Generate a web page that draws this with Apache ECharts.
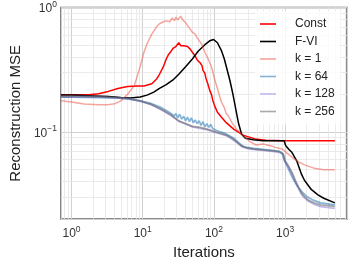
<!DOCTYPE html>
<html>
<head>
<meta charset="utf-8">
<script src="https://cdn.jsdelivr.net/npm/echarts@6/dist/echarts.min.js"></script>
<style>html,body{margin:0;padding:0;background:#fff;}#c{width:354px;height:265px;}</style>
</head>
<body>
<div id="c"></div>
<script>
// ---- data (iterations, reconstruction MSE) ----
const seriesNames = ['Const', 'F-VI', 'k = 1', 'k = 64', 'k = 128', 'k = 256'];

const xConst = [0.71,1,1.75,2.4,3.28,4.48,6.13,8.38,10.4,13.4,15.7,17.2,19.5,21.4,22.8,25,26.6,29.2,32.1,34.2,36.4,37.6,40,42.6,43.9,46.7,49.8,54.6,58.2,60,63.9,68,70.2,74.7,77.1,82,87.3,93,96,102,112,127,149,191,261,379,535,910,5000];
const yConst = [0.1995,0.1995,0.1995,0.203,0.212,0.224,0.232,0.234,0.234,0.244,0.267,0.291,0.335,0.386,0.415,0.445,0.469,0.486,0.521,0.494,0.512,0.494,0.503,0.486,0.494,0.461,0.437,0.407,0.379,0.386,0.360,0.341,0.313,0.296,0.271,0.244,0.216,0.198,0.181,0.163,0.144,0.132,0.119,0.105,0.094,0.0881,0.0859,0.0852,0.0852];

const xFVI = [0.71,1,1.75,3.28,4.92,6.73,9.2,11.5,14.3,17.2,21.4,26.6,32.1,40,49.8,60,74.7,87.3,93,98.9,105,112,127,140,153,168,185,203,222,245,277,356,487,969,1016,1133,1245,1325,1455,1703,1868,2118,2325,2892,3490,5000];
const yFVI = [0.198,0.198,0.196,0.193,0.189,0.188,0.191,0.198,0.209,0.224,0.240,0.262,0.291,0.335,0.386,0.445,0.503,0.540,0.549,0.554,0.540,0.521,0.453,0.386,0.318,0.258,0.201,0.152,0.117,0.096,0.089,0.0866,0.0852,0.0852,0.078,0.0725,0.0688,0.0677,0.0588,0.0457,0.041,0.0372,0.0346,0.0313,0.0294,0.0270];

const xK1 = [0.71,1,1.5,2.4,3.28,4.08,4.92,6.13,7.62,9.2,10.4,11.5,13.4,15.7,17.2,19.5,21.4,22.8,24,26,28,29.2,31,33,34.2,36.4,40,42.6,46.7,49.8,54.6,58.2,63.9,68,74.7,82,87.3,93,102,112,119,127,140,149,163,179,209,261,324,391,487,606,731,910,1065,1245,1549,1868,2555,3490,5000];
const yK1 = [0.178,0.174,0.168,0.166,0.166,0.169,0.178,0.201,0.236,0.335,0.437,0.512,0.611,0.703,0.741,0.768,0.781,0.810,0.768,0.824,0.781,0.838,0.795,0.824,0.853,0.795,0.754,0.715,0.667,0.633,0.611,0.569,0.530,0.503,0.437,0.393,0.360,0.330,0.267,0.224,0.198,0.175,0.157,0.141,0.132,0.119,0.105,0.0929,0.0834,0.0787,0.0801,0.0780,0.0753,0.0731,0.0677,0.0630,0.0575,0.0545,0.0513,0.0499,0.0499];

const xK64 = [0.71,1,2.4,4.08,6.13,9.2,13.4,18.3,21.4,25,27.5,29.2,31,33,35.3,37.6,40,42.6,45.3,48.2,51.4,54.6,58.2,62,66,70.2,74.7,79.5,84.6,90.2,96,102,109,119,140,163,191,222,261,356,487,665,828,910,969,1065,1169,1325,1500,1703,1990,2480,3177,5000];
const yK64 = [0.191,0.191,0.189,0.188,0.185,0.178,0.169,0.157,0.149,0.141,0.134,0.141,0.130,0.139,0.127,0.134,0.123,0.132,0.121,0.130,0.119,0.125,0.117,0.123,0.113,0.121,0.110,0.117,0.109,0.115,0.107,0.110,0.103,0.101,0.098,0.094,0.0893,0.0823,0.0762,0.0740,0.0725,0.0714,0.0701,0.0677,0.0596,0.0535,0.0475,0.0410,0.0365,0.0334,0.0305,0.0284,0.0270,0.0260];

const xK128 = [0.71,1,2.4,4.08,6.13,9.2,13.4,18.3,25,32.1,40,49.8,63.9,82,102,127,153,179,209,245,290,356,487,665,828,940,1000,1133,1245,1390,1549,1703,1868,2118,2555,3177,5000];
const yK128 = [0.192,0.192,0.192,0.188,0.185,0.177,0.165,0.151,0.136,0.122,0.116,0.110,0.107,0.104,0.100,0.096,0.093,0.088,0.0825,0.0765,0.0740,0.0725,0.0712,0.0700,0.0688,0.0660,0.0580,0.0515,0.0465,0.0400,0.0350,0.0315,0.0296,0.0278,0.0263,0.0252,0.0244];

const xK256 = [0.71,1,2.4,4.08,6.13,9.2,13.4,18.3,25,32.1,40,49.8,63.9,82,102,127,153,179,209,245,290,356,487,665,828,940,1000,1133,1245,1390,1549,1703,1868,2118,2555,3177,5000];
const yK256 = [0.193,0.193,0.193,0.189,0.186,0.178,0.166,0.152,0.137,0.123,0.117,0.111,0.109,0.105,0.101,0.0971,0.094,0.0893,0.0834,0.0773,0.0747,0.0731,0.0719,0.0707,0.0695,0.0670,0.0588,0.0526,0.0475,0.0410,0.0359,0.0323,0.0303,0.0284,0.0270,0.0260,0.0253];

// axis extents and grid values
const xMin = 0.71, xMax = 7400;
const yMin = 0.02, yMax = 1;
const xMinorGrid = [0.8,0.9,2,3,4,5,6,7,8,9,20,30,40,50,60,70,80,90,200,300,400,500,600,700,800,900,2000,3000,4000,5000,6000,7000];
const yMinorGrid = [0.03,0.04,0.05,0.06,0.07,0.08,0.09,0.2,0.3,0.4,0.5,0.6,0.7,0.8,0.9];

const colors = ['#ff0000', '#000000', 'rgba(235,75,60,0.5)', 'rgba(31,119,180,0.55)', 'rgba(120,100,210,0.45)', 'rgba(100,100,100,0.55)'];
const widths = [1.5, 1.5, 1.5, 1.7, 1.8, 1.8];
const xs = [xConst, xFVI, xK1, xK64, xK128, xK256];
const ys = [yConst, yFVI, yK1, yK64, yK128, yK256];

function zip(a, b) { return a.map((v, i) => [v, b[i]]); }
function powLabel(v) {
  const e = Math.log10(v), r = Math.round(e);
  if (Math.abs(e - r) > 1e-6) return '';
  return '{a|10}{b|' + (r < 0 ? '\u2212' + (-r) : r) + '}';
}
const FONT = 'Liberation Sans';
const rich = {
  a: { fontSize: 12, fontFamily: FONT, color: '#333', lineHeight: 15, verticalAlign: 'bottom' },
  b: { fontSize: 8.5, fontFamily: FONT, color: '#333', lineHeight: 15, verticalAlign: 'top', padding: [0, 0, 6, 0] }
};

const series = seriesNames.map((n, i) => ({
  name: n, type: 'line', data: zip(xs[i], ys[i]), symbol: 'none', smooth: false,
  lineStyle: { color: colors[i], width: widths[i] }, itemStyle: { color: colors[i] },
  z: 3, animation: false
}));
series.unshift({
  type: 'line', data: [], symbol: 'none', silent: true, animation: false, z: 1,
  markLine: {
    silent: true, symbol: 'none', animation: false, z: 1, label: { show: false },
    lineStyle: { color: '#e6e6e6', width: 0.8, type: 'solid' },
    data: xMinorGrid.map(v => ({ xAxis: v })).concat(yMinorGrid.map(v => ({ yAxis: v })))
  }
});

const chart = echarts.init(document.getElementById('c'), null, { renderer: 'canvas' });
chart.setOption({
  animation: false,
  backgroundColor: '#fff',
  grid: { left: 51, right: 7, top: 5, bottom: 38, show: true, borderColor: '#666', borderWidth: 1.5, backgroundColor: 'transparent' },
  xAxis: {
    type: 'log', logBase: 10, min: xMin, max: xMax,
    name: 'Iterations', nameLocation: 'middle', nameGap: 22,
    nameTextStyle: { fontSize: 15, fontFamily: FONT, color: '#222' },
    axisLine: { show: false }, axisTick: { show: false },
    axisLabel: { formatter: powLabel, rich: rich, margin: 6, showMinLabel: false, showMaxLabel: false },
    splitLine: { show: true, lineStyle: { color: '#d0d0d0', width: 1 } }
  },
  yAxis: {
    type: 'log', logBase: 10, min: yMin, max: yMax,
    name: 'Reconstruction MSE', nameLocation: 'middle', nameGap: 29,
    nameTextStyle: { fontSize: 15, fontFamily: FONT, color: '#222' },
    axisLine: { show: false }, axisTick: { show: false },
    axisLabel: { formatter: powLabel, rich: rich, margin: 4 },
    splitLine: { show: true, lineStyle: { color: '#d0d0d0', width: 1 } }
  },
  legend: {
    data: seriesNames, orient: 'vertical', left: 255, top: 11, z: 10,
    icon: 'path://M0,0L10,0L10,1L0,1Z',
    padding: [6, 6, 6, 5], itemWidth: 26, itemHeight: 1.6, itemGap: 3.5,
    backgroundColor: 'rgba(255,255,255,0.8)', borderWidth: 0,
    textStyle: { fontSize: 12, lineHeight: 14, fontFamily: FONT, color: '#222', padding: [0, 0, 0, 9] },
    selectedMode: false
  },
  series: series
});
</script>
</body>
</html>
